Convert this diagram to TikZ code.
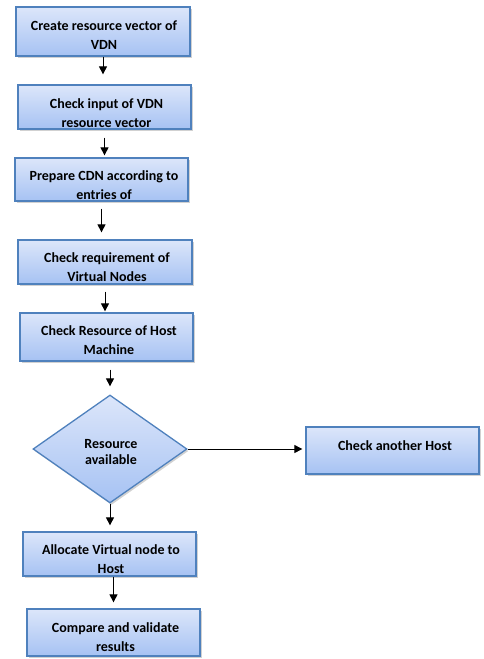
\documentclass[tikz,border=0pt]{standalone}
\usepackage{fontspec}
\setmainfont{Carlito}
\usetikzlibrary{shapes.geometric,shadows,arrows.meta}
\definecolor{boxtop}{HTML}{DCE6FA}
\definecolor{boxbot}{HTML}{A6C2F3}
\definecolor{boxline}{HTML}{4F81BD}
\tikzset{
 box/.style={draw=boxline, line width=1.3pt, top color=boxtop, bottom color=boxbot, inner sep=0pt,
   drop shadow={shadow xshift=1.5pt, shadow yshift=-2pt, opacity=0.3, fill=black!60}},
 lbl/.style={font=\fontsize{14}{19}\selectfont\bfseries, align=center, inner sep=0pt},
 arr/.style={-{Triangle[length=8pt,width=8pt]}, line width=1pt},
}
\begin{document}
\begin{tikzpicture}[x=1pt,y=-1pt]
\useasboundingbox (0,0) rectangle (483,659);
\node[box, minimum width=174pt, minimum height=49pt] (b1) at (103,31.5) {};
\node[box, minimum width=173pt, minimum height=44pt] (b2) at (104.5,107) {};
\node[box, minimum width=173pt, minimum height=43pt] (b3) at (101.5,179.5) {};
\node[box, minimum width=174pt, minimum height=44pt] (b4) at (105,262) {};
\node[box, minimum width=173pt, minimum height=48pt] (b5) at (106.5,337) {};
\node[box, diamond, minimum width=154pt, minimum height=108pt] (d) at (110,449) {};
\node[box, minimum width=173pt, minimum height=47pt] (h) at (392.5,450.5) {};
\node[box, minimum width=173pt, minimum height=44pt] (b7) at (109.5,554) {};
\node[box, minimum width=173pt, minimum height=47pt] (b8) at (113.5,632.5) {};

\node[lbl] (t1) at (104,35.5) {Create resource vector of\\VDN};
\node[lbl] (t2) at (106.5,113.5) {Check input of VDN\\resource vector};
\node[lbl] (t3) at (104,185) {Prepare CDN according to\\entries of};
\node[lbl] (t4) at (107,267.5) {Check requirement of\\Virtual Nodes};
\node[lbl] (t5) at (109,340) {Check Resource of Host\\Machine};
\node[lbl, font=\fontsize{14}{16}\selectfont\bfseries] (td) at (111,452) {Resource\\available};
\node[lbl] (th) at (395,446) {Check another Host};
\node[lbl] (t7) at (111,559) {Allocate Virtual node to\\Host};
\node[lbl] (t8) at (115.5,637.5) {Compare and validate\\results};

\draw[arr, shorten >=10pt] (b1.south) -- (b1.south |- b2.north);
\draw[arr, shorten <=8pt, shorten >=2pt] (b2.south) -- (b2.south |- b3.north);
\draw[arr, shorten <=7pt, shorten >=7pt] (b3.south) -- (b3.south |- b4.north);
\draw[arr, shorten <=7pt, shorten >=1pt] (b4.south) -- (b4.south |- b5.north);
\draw[arr, shorten <=8pt, shorten >=8pt] (d.north |- b5.south) -- (d.north);
\draw[arr, shorten >=6pt] (d.south) -- (d.south |- b7.north);
\draw[arr, shorten >=6pt] (b8.north |- b7.south) -- (b8.north);
\draw[arr, shorten >=3pt] (d.east) -- (h.west |- d.east);
\end{tikzpicture}
\end{document}
